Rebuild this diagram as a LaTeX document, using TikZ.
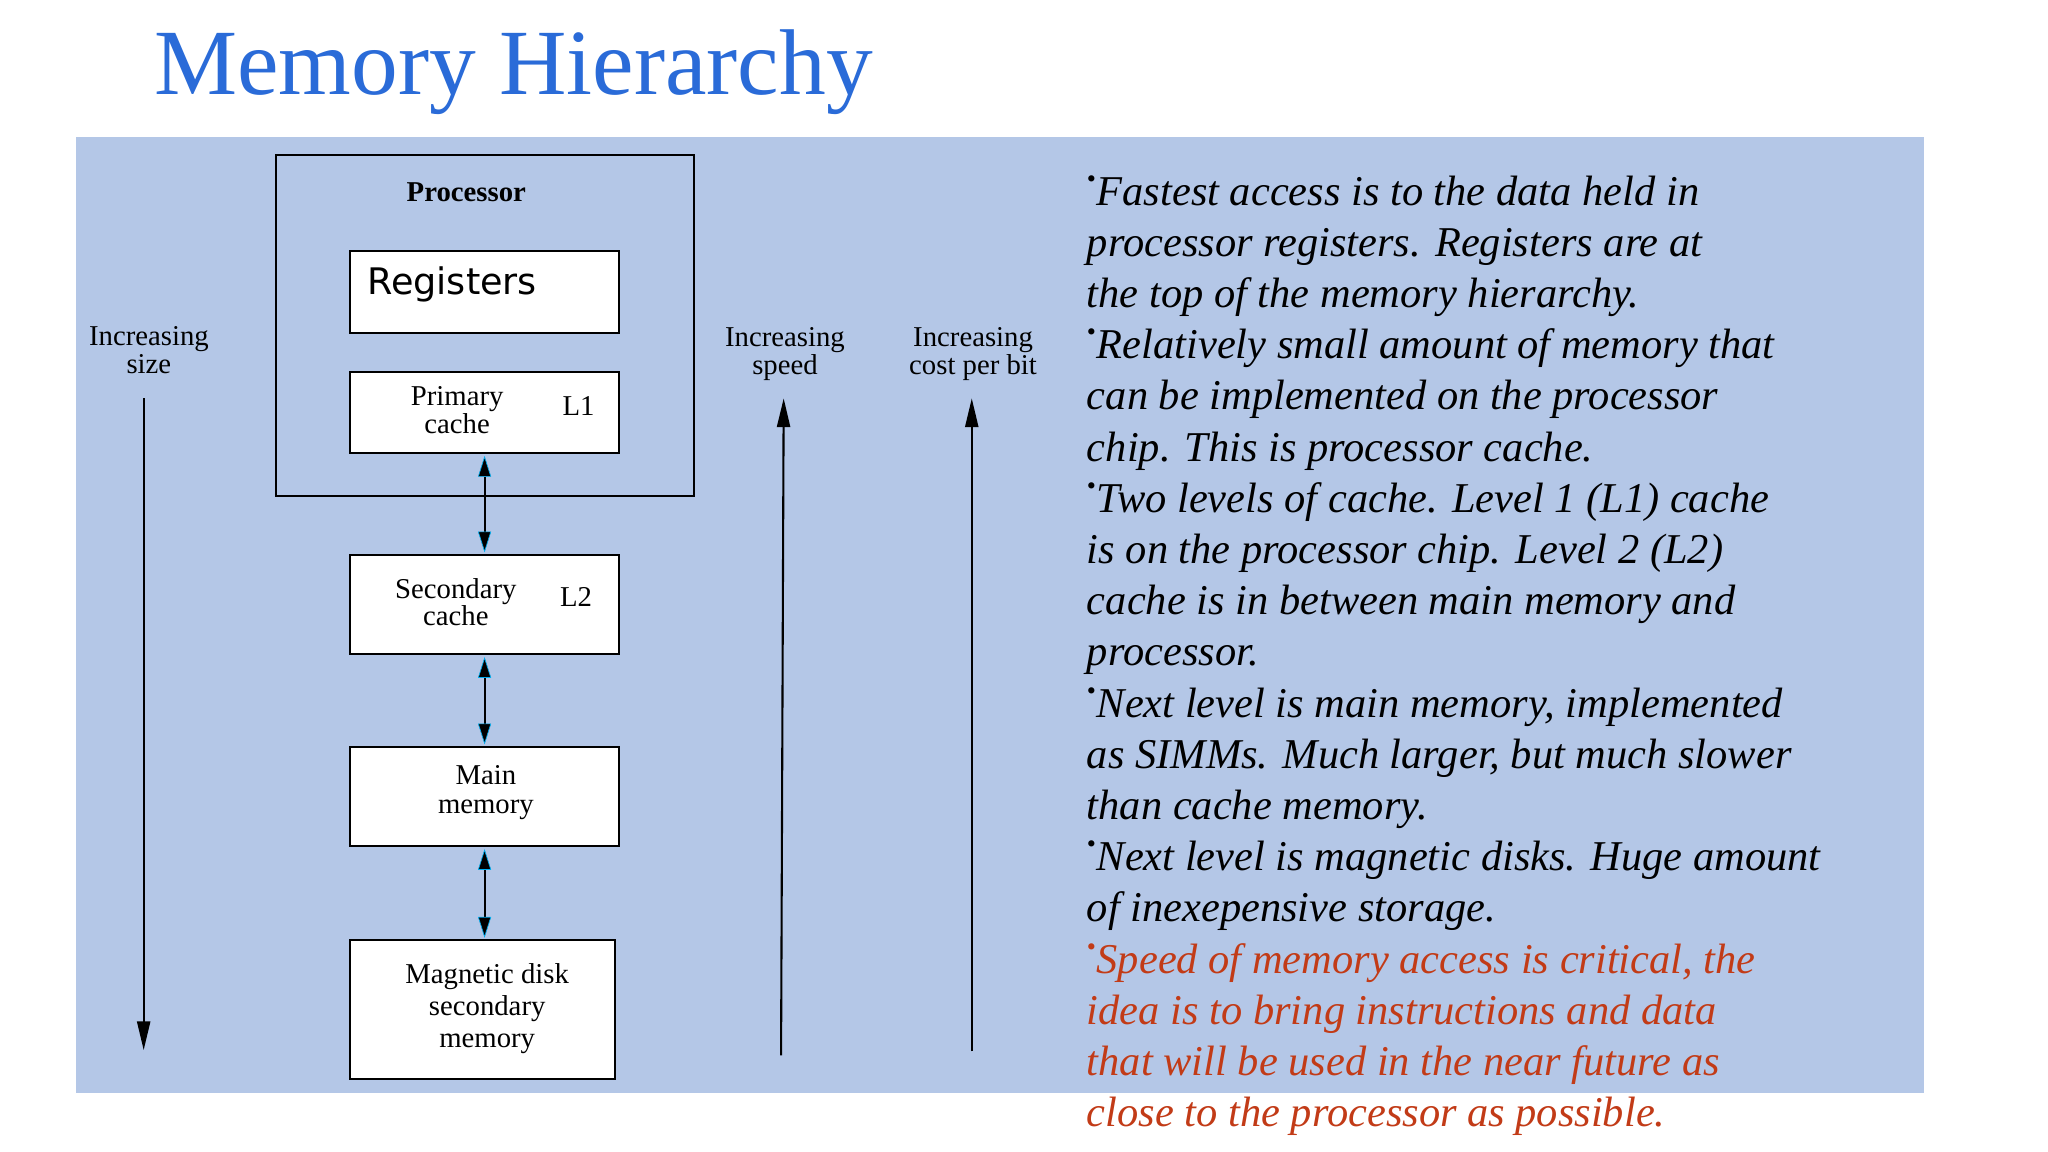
\documentclass[tikz,border=0pt]{standalone}
\usepackage{fontspec}
\setmainfont{Liberation Serif}
\newfontfamily\regfont{DejaVu Sans}
\usetikzlibrary{arrows.meta}
\definecolor{bg}{HTML}{B4C7E7}
\definecolor{ttl}{HTML}{2A6BD8}
\definecolor{redt}{HTML}{C23B17}
\begin{document}
\begin{tikzpicture}[x=1pt,y=-1pt,
  box/.style={draw,line width=1.6pt,fill=white,inner sep=0pt},
  lbl/.style={font=\fontsize{22}{22}\selectfont,align=center,inner sep=0pt},
  link/.style={line width=1.6pt,{Triangle[length=16pt,width=10pt,fill=black,color=cyan,line width=0.5pt]}-{Triangle[length=16pt,width=10pt,fill=black,color=cyan,line width=0.5pt]}},
  axis/.style={line width=1.6pt,-{Triangle[length=22pt,width=10pt]}},
  txt/.style={anchor=base west,inner sep=0pt,font=\fontsize{32.5}{32.5}\selectfont\itshape}]
\useasboundingbox (0,0) rectangle (1568,882);
\fill[white] (0,0) rectangle (1568,882);
\node[anchor=base west,inner sep=0pt,text=ttl,font=\fontsize{71.5}{72}\selectfont] (title) at (118,72) {Memory Hierarchy};
\fill[bg] (58,105) rectangle (1473,837);
% processor
\draw[line width=1.6pt] (211,119) rectangle (531,380);
\node[lbl,font=\fontsize{22}{22}\selectfont\bfseries] (proc) at (357,147) {Processor};
\draw[box] (268,192) rectangle (474,255);
\node[inner sep=0pt,anchor=west,font=\regfont\fontsize{28}{28}\selectfont] (reg) at (281,218) {Registers};
\draw[box] (268,285) rectangle (474,347);
\node[lbl,font=\fontsize{22}{19}\selectfont] (pc) at (350,314) {Primary\\cache};
\node[lbl] (l1) at (443,311) {L1};
\draw[box] (268,425) rectangle (474,501);
\node[lbl,font=\fontsize{22}{21}\selectfont] (sc) at (349,461) {Secondary\\cache};
\node[lbl] (l2) at (441,457) {L2};
\draw[box] (268,572) rectangle (474,648);
\node[lbl,font=\fontsize{22}{22}\selectfont] (mm) at (372,607) {Main\\memory};
\draw[box] (268,720) rectangle (471,826);
\node[lbl,font=\fontsize{22}{24.5}\selectfont] (md) at (373,772) {Magnetic disk\\secondary\\memory};
\coordinate (a1) at (371,349); \coordinate (b1) at (371,423);
\coordinate (a2) at (371,503); \coordinate (b2) at (371,570);
\coordinate (a3) at (371,650); \coordinate (b3) at (371,718);
\draw[link] (a1) -- (b1);
\draw[link] (a2) -- (b2);
\draw[link] (a3) -- (b3);
% axes
\node[lbl] (sz) at (114,268) {Increasing\\size};
\node[lbl] (sp) at (601,271) {Increasing\\speed};
\node[lbl] (co) at (745,271) {Increasing\\cost per bit};
\coordinate (s1) at (110,305); \coordinate (s2) at (110,804);
\coordinate (p1) at (598,808); \coordinate (p2) at (600,305);
\coordinate (c1) at (744,805); \coordinate (c2) at (744,305);
\draw[axis] (s1) -- (s2);
\draw[axis] (p1) -- (p2);
\draw[axis] (c1) -- (c2);
% text
\newcommand{\bul}{\raisebox{0.42em}{\fontsize{20}{20}\selectfont\upshape\textbullet}\hspace{0.5pt}}
\foreach \t [count=\i] in {
 {\bul Fastest access is to the data held in},
 {processor registers. Registers are at},
 {the top of the memory hierarchy.},
 {\bul Relatively small amount of memory that},
 {can be implemented on the processor},
 {chip. This is processor cache.},
 {\bul Two levels of cache. Level 1 (L1) cache},
 {is on the processor chip. Level 2 (L2)},
 {cache is in between main memory and},
 {processor.},
 {\bul Next level is main memory, implemented},
 {as SIMMs. Much larger, but much slower},
 {than cache memory.},
 {\bul Next level is magnetic disks. Huge amount},
 {of inexepensive storage.}}
 { \node[txt] (t\i) at (832,{157+39.2*(\i-1)}) {\t}; }
\foreach \t [count=\i from 16] in {
 {\bul Speed of memory access is critical, the},
 {idea is to bring instructions and data},
 {that will be used in the near future as},
 {close to the processor as possible.}}
 { \node[txt,text=redt] (t\i) at (832,{157+39.2*(\i-1)}) {\t}; }
\end{tikzpicture}
\end{document}
